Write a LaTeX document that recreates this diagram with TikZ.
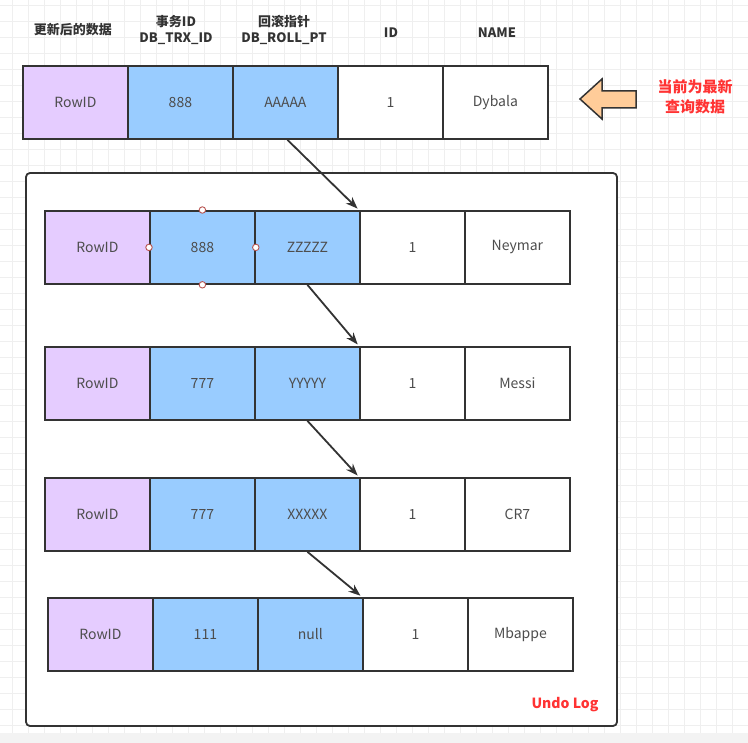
\documentclass[tikz,border=0pt]{standalone}
\usepackage{fontspec}
\setmainfont{Noto Sans CJK SC}
\usetikzlibrary{arrows.meta}
\definecolor{edge}{HTML}{333333}
\definecolor{txt}{HTML}{4D4D4D}
\definecolor{purp}{HTML}{E5CCFF}
\definecolor{blu}{HTML}{99CCFF}
\definecolor{redt}{HTML}{FF3333}
\definecolor{peach}{HTML}{FFCC99}
\definecolor{gridc}{HTML}{EFEFEF}
\definecolor{band}{HTML}{F3F3F3}
\definecolor{handle}{HTML}{B85450}
\tikzset{
  cell/.style={draw=edge, line width=1.8pt, minimum width=105pt, minimum height=73pt,
    inner sep=0pt, anchor=north west, font=\fontsize{14}{16}\selectfont, text=txt},
  pcell/.style={cell, fill=purp},
  bcell/.style={cell, fill=blu},
  wcell/.style={cell, fill=white},
  hdr/.style={font=\bfseries\fontsize{13}{16}\selectfont, text=edge, align=center, inner sep=0pt},
  link/.style={draw=edge, line width=1.8pt, -{Stealth[length=12pt,width=9pt]}, shorten >=2pt},
  gridline/.style={draw=gridc, line width=0.8pt},
  hnd/.style={circle, draw=handle, fill=white, line width=0.9pt, minimum size=6.5pt, inner sep=0pt}
}
\begin{document}
\begin{tikzpicture}[x=1pt,y=-1pt]
\useasboundingbox (0,0) rectangle (748,743);
% background grid
\foreach \i in {0,...,46} \draw[gridline] ({12+16*\i},0) -- ({12+16*\i},733);
\foreach \j in {0,...,45} \draw[gridline] (0,{5+16*\j}) -- (748,{5+16*\j});
\fill[band] (0,733) rectangle (748,743);

% headers
\node[hdr] (h1) at (73,30) {更新后的数据};
\node[hdr] (h2) at (176,30) {事务ID\\DB\_TRX\_ID};
\node[hdr] (h3) at (284,30) {回滚指针\\DB\_ROLL\_PT};
\node[hdr] (h4) at (391,33) {ID};
\node[hdr] (h5) at (497,33) {NAME};

% top row
\node[pcell] (r0a) at (22,65) {RowID};
\node[bcell] (r0b) at (127,65) {888};
\node[bcell] (r0c) at (232,65) {AAAAA};
\node[wcell] (r0d) at (337,65) {1};
\node[wcell] (r0e) at (442,65) {Dybala};

% orange arrow
\draw[fill=peach, draw=edge, line width=1.5pt, line join=miter]
  (580,99) -- (602,79) -- (602,91) -- (636,91) -- (636,108) -- (602,108) -- (602,119) -- cycle;
\node[font=\bfseries\fontsize{15}{20}\selectfont, text=redt, align=center, inner sep=0pt] (cur) at (695,97) {当前为最新\\查询数据};

% undo log container
\draw[draw=edge, line width=1.8pt, fill=white, rounded corners=4pt] (26,173) rectangle (617,726);
\node[font=\bfseries\fontsize{14}{16}\selectfont, text=redt, inner sep=0pt] (undo) at (565,705) {Undo Log};

% row 1
\node[pcell] (r1a) at (44,210) {RowID};
\node[bcell] (r1b) at (149,210) {888};
\node[bcell] (r1c) at (254,210) {ZZZZZ};
\node[wcell] (r1d) at (359,210) {1};
\node[wcell] (r1e) at (464,210) {Neymar};
% row 2
\node[pcell] (r2a) at (44,346) {RowID};
\node[bcell] (r2b) at (149,346) {777};
\node[bcell] (r2c) at (254,346) {YYYYY};
\node[wcell] (r2d) at (359,346) {1};
\node[wcell] (r2e) at (464,346) {Messi};
% row 3
\node[pcell] (r3a) at (44,477) {RowID};
\node[bcell] (r3b) at (149,477) {777};
\node[bcell] (r3c) at (254,477) {XXXXX};
\node[wcell] (r3d) at (359,477) {1};
\node[wcell] (r3e) at (464,477) {CR7};
% row 4
\node[pcell] (r4a) at (47,597) {RowID};
\node[bcell] (r4b) at (152,597) {111};
\node[bcell] (r4c) at (257,597) {null};
\node[wcell] (r4d) at (362,597) {1};
\node[wcell] (r4e) at (467,597) {Mbappe};

% selection handles
\node[hnd] (hn) at (r1b.north) {};
\node[hnd] (hs) at (r1b.south) {};
\node[hnd] (hw) at (r1b.west) {};
\node[hnd] (he) at (r1b.east) {};

% links
\draw[link] ([xshift=2pt]r0c.south) -- (r1d.north west);
\draw[link] (r1c.south) -- (r2d.north west);
\draw[link] (r2c.south) -- (r3d.north west);
\draw[link] (r3c.south) -- (r4d.north west);
\end{tikzpicture}
\end{document}
